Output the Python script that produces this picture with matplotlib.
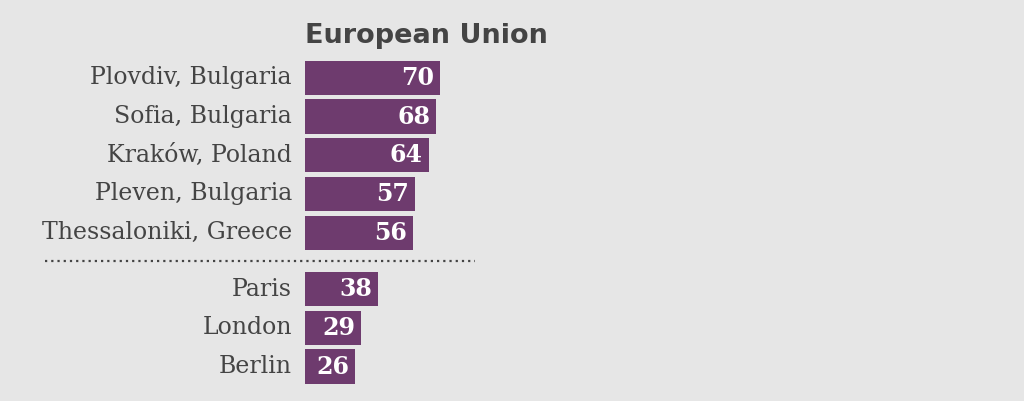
import matplotlib
matplotlib.use("Agg")
import matplotlib.pyplot as plt

# 데이터
cities = ["Plovdiv, Bulgaria", "Sofia, Bulgaria", "Kraków, Poland",
          "Pleven, Bulgaria", "Thessaloniki, Greece",
          "Paris", "London", "Berlin"]
values = [70, 68, 64, 57, 56, 38, 29, 26]
title = "European Union"

BG = "#e6e6e6"
BAR = "#6e3b6e"
TXT = "#444444"

# 픽셀 기준 배치 (1 unit = 1.93px, row pitch 38.7px)
px_unit = 1.93
pitch = 38.7
x0 = 305
y0 = 77.8
rows = [0, 1, 2, 3, 4, 5.46, 6.46, 7.46]

fig = plt.figure(figsize=(10.24, 4.01), dpi=100)
fig.patch.set_facecolor(BG)
ax = fig.add_axes([0, 0, 1, 1])
ax.set_facecolor(BG)
ax.set_xlim(-x0 / px_unit, (1024 - x0) / px_unit)
ax.set_ylim((401 - y0) / pitch, -y0 / pitch)
ax.axis("off")

ax.barh(rows, values, height=0.88, color=BAR, edgecolor="none")

for r, c, v in zip(rows, cities, values):
    ax.text(-13 / px_unit, r, c, ha="right", va="center", color=TXT,
            fontsize=17, family="DejaVu Serif")
    ax.text(v - 6 / px_unit, r, str(v), ha="right", va="center",
            color="white", fontsize=17, family="DejaVu Serif", fontweight="bold")

# 점선 구분
ax.plot([(45 - x0) / px_unit, (475 - x0) / px_unit], [4.73, 4.73],
        color=TXT, lw=1.6, linestyle=(0, (1, 1.8)), clip_on=False)

ax.text(0, -0.9, title, ha="left", va="baseline", color=TXT,
        fontsize=19.5, family="DejaVu Sans", fontweight="bold")

fig.savefig("out.png", dpi=100, facecolor=BG)
